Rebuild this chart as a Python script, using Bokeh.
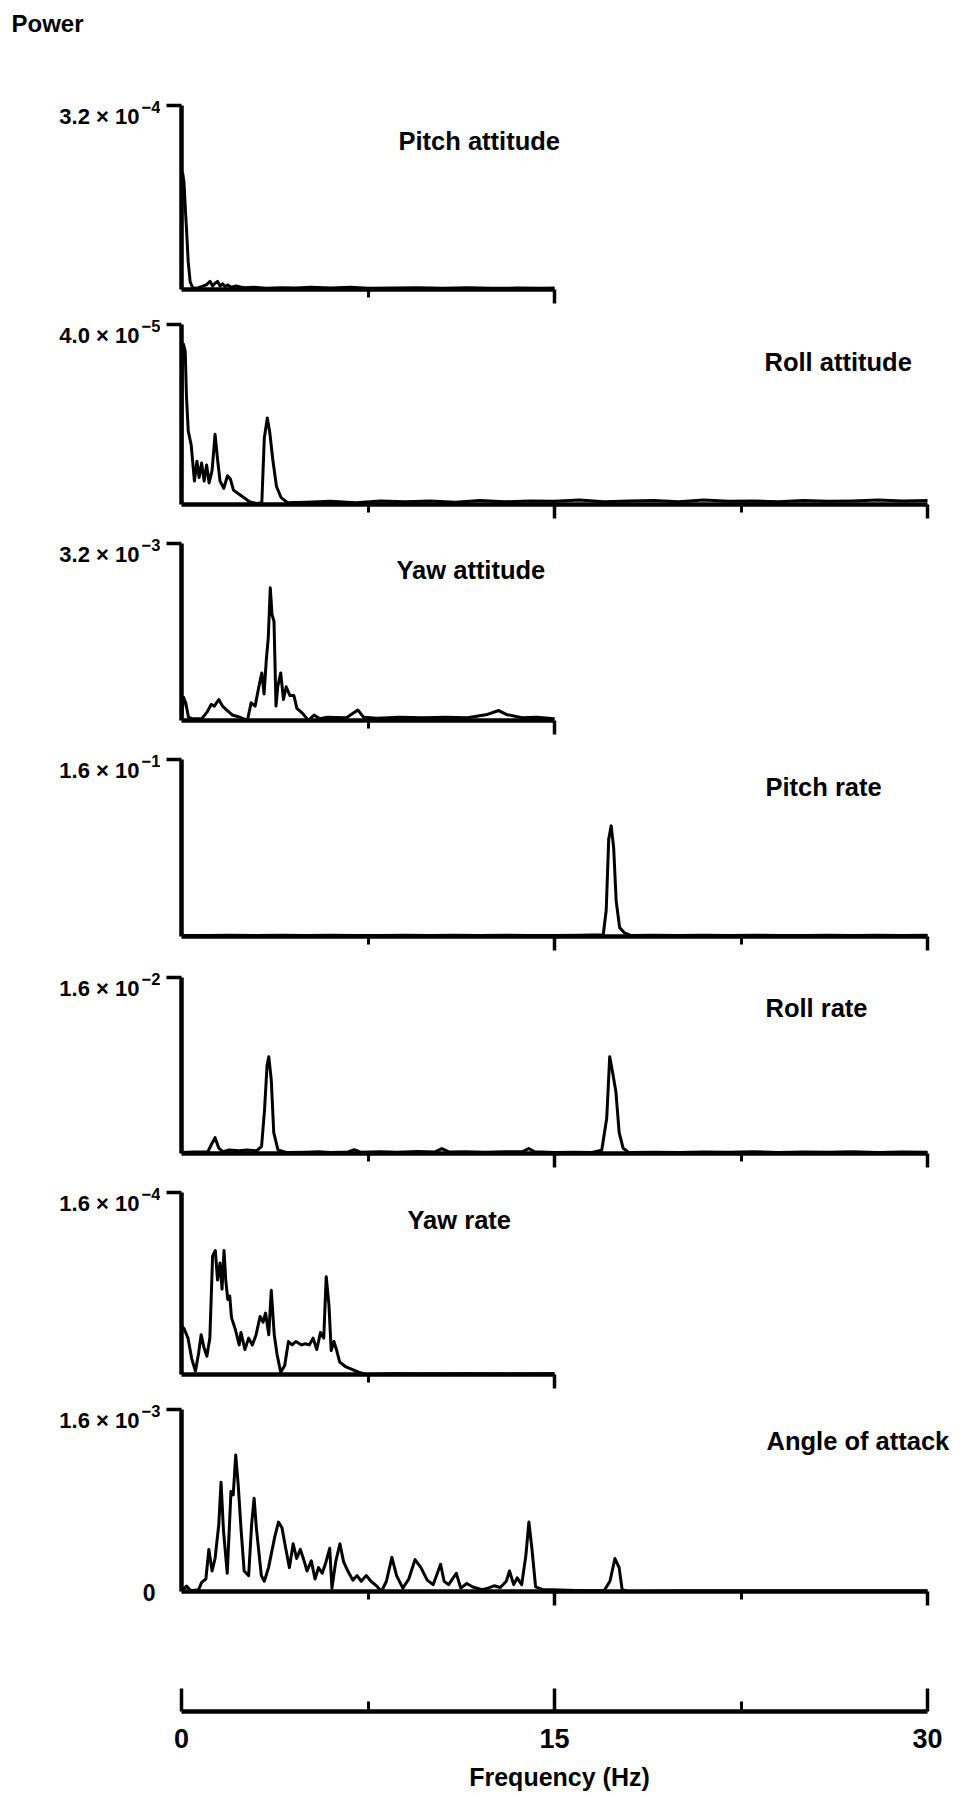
from bokeh.plotting import figure
from bokeh.models import Range1d, FixedTicker, CustomJSTickFormatter, Label, LinearAxis
from bokeh.layouts import column, row
from bokeh.embed import file_html
from bokeh.resources import INLINE

FONT = "Liberation Sans"
PAGE_W, PAGE_H = 961, 1797
LEFT_W = 160                      # width of the strip that carries the power labels
X0_PX, X30_PX = 181, 927          # horizontal page position of 0 Hz and 30 Hz
F_MAX = 30.0
F_VIEW = F_MAX * (PAGE_W - X0_PX) / (X30_PX - X0_PX)   # frequency at the page's right edge

# ---------------- spectra (frequency in Hz, power in the unit noted) ----------------
# Pitch attitude, power x 1e-4
pitch_att_freq = [0, 0.02, 0.05, 0.1, 0.15, 0.2, 0.27, 0.35, 0.45, 0.6,
                  0.8, 1.0, 1.15, 1.25, 1.35, 1.45, 1.55, 1.65, 1.75, 1.85,
                  2.0, 2.2, 2.5, 2.9, 3.4, 4.0, 4.6, 5.2, 6.0, 6.8,
                  7.5, 8.5, 9.5, 10.5, 11.5, 12.5, 13.5, 14.5, 15.0]
pitch_att_power = [0.0, 1.92, 2.02, 1.86, 1.44, 1.06, 0.48, 0.13, 0.03, 0.02,
                   0.05, 0.08, 0.14, 0.06, 0.11, 0.14, 0.06, 0.10, 0.05, 0.08,
                   0.04, 0.06, 0.03, 0.04, 0.02, 0.03, 0.025, 0.04, 0.025, 0.04,
                   0.02, 0.025, 0.03, 0.02, 0.03, 0.02, 0.025, 0.02, 0.025]

# Roll attitude, power x 1e-5
roll_att_freq = [0, 0.04, 0.08, 0.15, 0.2, 0.27, 0.39, 0.52, 0.62, 0.71,
                 0.81, 0.91, 1.01, 1.11, 1.23, 1.35, 1.45, 1.55, 1.7, 1.85,
                 1.97, 2.09, 2.29, 2.49, 2.73, 3.03, 3.23, 3.33, 3.45, 3.55,
                 3.67, 3.82, 4.0, 4.26,
                 5, 6, 7, 8, 9, 10, 11, 12, 13, 14, 15, 16, 17, 18, 19, 20,
                 21, 22, 23, 24, 25, 26, 27, 28, 29, 30]
roll_att_power = [0.0, 3.4, 3.56, 3.4, 2.4, 1.64, 1.32, 0.52, 0.96, 0.6,
                  0.92, 0.52, 0.88, 0.48, 0.76, 1.56, 1.0, 0.52, 0.36, 0.64,
                  0.56, 0.32, 0.24, 0.16, 0.06, 0.02, 0.04, 1.48, 1.92, 1.6,
                  1.0, 0.4, 0.16, 0.04,
                  0.05, 0.07, 0.04, 0.08, 0.06, 0.08, 0.05, 0.09, 0.06, 0.08,
                  0.07, 0.10, 0.06, 0.08, 0.09, 0.06, 0.10, 0.07, 0.08, 0.06,
                  0.09, 0.07, 0.08, 0.10, 0.08, 0.09]

# Yaw attitude, power x 1e-3
yaw_att_freq = [0, 0.08, 0.17, 0.28, 0.43, 0.81, 1.04, 1.19, 1.32, 1.5,
                1.65, 1.81, 2.04, 2.34, 2.65, 2.8, 2.96, 3.11, 3.23, 3.32,
                3.41, 3.49, 3.57, 3.64, 3.72, 3.8, 3.87, 3.99, 4.1, 4.21,
                4.36, 4.52, 4.64, 4.87, 5.1, 5.33, 5.56, 5.87, 6.63, 7.09,
                7.32, 7.86, 8.77, 9.7, 10.6, 11.5, 12.3, 12.76, 13.06, 13.7,
                14.3, 15.0]
yaw_att_power = [0.0, 0.42, 0.32, 0.06, 0.03, 0.03, 0.16, 0.29, 0.26, 0.38,
                 0.26, 0.19, 0.10, 0.06, 0.0, 0.32, 0.26, 0.61, 0.86, 0.48,
                 1.09, 1.5, 2.4, 1.92, 1.79, 0.26, 0.61, 0.86, 0.38, 0.61,
                 0.45, 0.45, 0.22, 0.13, 0.0, 0.10, 0.03, 0.06, 0.05, 0.19,
                 0.06, 0.04, 0.06, 0.05, 0.06, 0.05, 0.11, 0.18, 0.11, 0.05,
                 0.06, 0.03]

# Pitch rate, power x 1e-1
pitch_rate_freq = [0, 1, 2, 3, 4, 5, 6, 7, 8, 9, 10, 11, 12, 13, 14, 15, 16,
                   16.96, 17.08, 17.18, 17.28, 17.38, 17.48, 17.62, 17.82, 18.06,
                   19, 20, 21, 22, 23, 24, 25, 26, 27, 28, 29, 30]
pitch_rate_power = [0.008, 0.010, 0.012, 0.008, 0.011, 0.009, 0.012, 0.008, 0.010,
                    0.012, 0.009, 0.011, 0.008, 0.012, 0.010, 0.009, 0.011,
                    0.016, 0.24, 0.88, 1.0, 0.8, 0.32, 0.08, 0.032, 0.010,
                    0.012, 0.009, 0.011, 0.008, 0.012, 0.010, 0.009, 0.011,
                    0.008, 0.012, 0.010, 0.011]

# Roll rate, power x 1e-2
roll_rate_freq = [0, 0.5, 1.06, 1.18, 1.35, 1.5, 1.67, 1.92, 2.29, 2.65,
                  3.02, 3.22, 3.34, 3.44, 3.51, 3.61, 3.71, 3.88, 4.25, 5.0,
                  5.5, 6.0, 6.7, 6.95, 7.2, 8.0, 8.67, 9.5, 10.2, 10.47,
                  10.75, 11.4, 12.2, 13.0, 13.7, 13.96, 14.2, 15.0, 15.8, 16.5,
                  16.9, 17.1, 17.22, 17.35, 17.47, 17.6, 17.76, 18.0, 19, 20,
                  21, 22, 23, 24, 25, 26, 27, 28, 29, 30]
roll_rate_power = [0.008, 0.013, 0.016, 0.072, 0.144, 0.048, 0.016, 0.032, 0.024, 0.032,
                   0.024, 0.064, 0.4, 0.8, 0.88, 0.67, 0.19, 0.032, 0.008, 0.012,
                   0.016, 0.010, 0.014, 0.035, 0.012, 0.016, 0.012, 0.018, 0.014, 0.045,
                   0.014, 0.016, 0.012, 0.016, 0.016, 0.045, 0.016, 0.010, 0.012, 0.010,
                   0.03, 0.32, 0.88, 0.72, 0.56, 0.19, 0.048, 0.008, 0.012, 0.010,
                   0.014, 0.011, 0.016, 0.010, 0.013, 0.011, 0.015, 0.010, 0.014, 0.012]

# Yaw rate, power x 1e-4
yaw_rate_freq = [0, 0.11, 0.26, 0.41, 0.56, 0.69, 0.79, 0.9, 1.02, 1.14,
                 1.25, 1.36, 1.45, 1.55, 1.63, 1.71, 1.78, 1.86, 1.94, 2.01,
                 2.16, 2.32, 2.39, 2.55, 2.7, 2.85, 3.0, 3.16, 3.28, 3.38,
                 3.51, 3.61, 3.73, 3.84, 3.99, 4.15, 4.3, 4.45, 4.6, 4.83,
                 4.98, 5.14, 5.29, 5.44, 5.59, 5.72, 5.82, 5.93, 6.02, 6.13,
                 6.23, 6.36, 6.59, 6.81, 7.12, 7.42, 8.5, 10.0, 11.5, 13.0,
                 15.0]
yaw_rate_power = [0.43, 0.40, 0.32, 0.14, 0.03, 0.19, 0.35, 0.24, 0.16, 0.32,
                  1.04, 1.09, 0.83, 0.98, 0.75, 1.09, 0.83, 0.66, 0.69, 0.50,
                  0.40, 0.26, 0.37, 0.22, 0.32, 0.26, 0.35, 0.51, 0.46, 0.54,
                  0.35, 0.74, 0.35, 0.18, 0.02, 0.08, 0.29, 0.26, 0.29, 0.26,
                  0.27, 0.26, 0.32, 0.22, 0.37, 0.32, 0.86, 0.61, 0.21, 0.29,
                  0.22, 0.11, 0.07, 0.05, 0.02, 0.0, 0.006, 0.005, 0.006, 0.005,
                  0.006]

# Angle of attack, power x 1e-3
aoa_freq = [0, 0.07, 0.2, 0.37, 0.69, 0.81, 0.98, 1.1, 1.23, 1.35,
            1.5, 1.59, 1.69, 1.84, 1.99, 2.08, 2.18, 2.28, 2.4, 2.52,
            2.7, 2.82, 2.92, 3.01, 3.21, 3.33, 3.5, 3.75, 3.9, 4.04,
            4.19, 4.34, 4.49, 4.63, 4.78, 4.93, 5.05, 5.22, 5.37, 5.51,
            5.66, 5.81, 5.96, 6.05, 6.2, 6.37, 6.52, 6.69, 6.89, 7.06,
            7.23, 7.43, 7.62, 7.84, 8.04, 8.24, 8.46, 8.65, 8.9, 9.14,
            9.39, 9.63, 9.88, 10.12, 10.42, 10.56, 10.74, 11.05, 11.23, 11.47,
            11.72, 12.08, 12.33, 12.57, 12.82, 13.06, 13.19, 13.36, 13.5, 13.68,
            13.85, 13.97, 14.09, 14.24, 14.53, 14.9, 15.5, 16.25, 16.99, 17.23,
            17.43, 17.6, 17.72, 17.97, 20, 25, 30]
aoa_power = [0.0, 0.016, 0.048, 0.006, 0.016, 0.08, 0.11, 0.37, 0.18, 0.29,
             0.59, 0.96, 0.53, 0.16, 0.88, 0.85, 1.2, 0.94, 0.53, 0.18,
             0.14, 0.59, 0.82, 0.56, 0.14, 0.09, 0.21, 0.48, 0.61, 0.56,
             0.38, 0.21, 0.42, 0.29, 0.37, 0.27, 0.18, 0.27, 0.11, 0.21,
             0.16, 0.26, 0.38, 0.03, 0.26, 0.42, 0.26, 0.18, 0.10, 0.14,
             0.09, 0.14, 0.09, 0.05, 0.0, 0.09, 0.30, 0.14, 0.03, 0.11,
             0.28, 0.21, 0.10, 0.06, 0.24, 0.09, 0.06, 0.16, 0.03, 0.07,
             0.04, 0.016, 0.03, 0.05, 0.035, 0.09, 0.18, 0.06, 0.12, 0.06,
             0.32, 0.61, 0.38, 0.04, 0.016, 0.016, 0.01, 0.006, 0.006, 0.09,
             0.29, 0.21, 0.016, 0.0, 0.005, 0.005, 0.005]

panel_titles = ["Pitch attitude", "Roll attitude", "Yaw attitude", "Pitch rate",
                "Roll rate", "Yaw rate", "Angle of attack"]
panel_units = [1e-4, 1e-5, 1e-3, 1e-1, 1e-2, 1e-4, 1e-3]
axis_tops = [3.2e-4, 4.0e-5, 3.2e-3, 1.6e-1, 1.6e-2, 1.6e-4, 1.6e-3]
axis_top_mantissa = ["3.2 × 10", "4.0 × 10", "3.2 × 10", "1.6 × 10",
                     "1.6 × 10", "1.6 × 10", "1.6 × 10"]
axis_top_exponent = ["−4", "−5", "−3", "−1", "−2", "−4", "−3"]
panel_spans = [15, 30, 15, 30, 30, 15, 30]          # Hz covered by each trace
freq_ticks = [0, 15, 30]
freq_minor_ticks = [7.5, 22.5]

series = [
    (pitch_att_freq, pitch_att_power),
    (roll_att_freq, roll_att_power),
    (yaw_att_freq, yaw_att_power),
    (pitch_rate_freq, pitch_rate_power),
    (roll_rate_freq, roll_rate_power),
    (yaw_rate_freq, yaw_rate_power),
    (aoa_freq, aoa_power),
]

# ---------------- page layout (pixels from the top of the page) ----------------
FRAME_TOP = [105, 324, 543, 759, 977, 1192, 1409]
FRAME_BOT = [289, 504, 720, 936, 1153, 1374, 1591]
CUTS = [0, 310, 529, 745, 963, 1178, 1395, 1621]
TITLE_POS = [(398, 140), (764, 361), (396, 569), (765, 786),
             (765, 1007), (407, 1219), (766, 1440)]
FREQ_AXIS_Y = 1711
FREQ_FRAME_RIGHT = 937


def bold_label(x, y, text, size, align="left", baseline="alphabetic"):
    return Label(x=x, y=y, text=text, text_font=FONT, text_font_style="bold",
                 text_font_size=size, text_color="black",
                 text_align=align, text_baseline=baseline)


# ---- left strip: "Power" and the full-scale value of each panel ----
left = figure(width=LEFT_W, height=CUTS[-1],
              x_range=Range1d(0, LEFT_W), y_range=Range1d(CUTS[-1], 0),
              x_axis_type=None, y_axis_type=None,
              output_backend="svg", toolbar_location=None,
              min_border_left=0, min_border_right=0, min_border_top=0, min_border_bottom=0)
left.outline_line_color = None
left.grid.visible = False
left.add_layout(bold_label(11, 23, "Power", "24px"))
for i in range(len(series)):
    top_px = FRAME_TOP[i]
    left.add_layout(bold_label(139, top_px + 11, axis_top_mantissa[i], "22px", align="right"))
    left.add_layout(bold_label(141, top_px + 1, axis_top_exponent[i], "16.5px"))
left.add_layout(bold_label(155, FRAME_BOT[-1] + 1, "0", "23px", align="right", baseline="middle"))

# ---- the seven spectra ----
figs = []
for i, (freq, power) in enumerate(series):
    assert len(freq) == len(power)
    top = axis_tops[i]
    ftop, fbot = FRAME_TOP[i], FRAME_BOT[i]
    p = figure(width=PAGE_W - LEFT_W, height=CUTS[i + 1] - CUTS[i],
               x_range=Range1d(0, F_VIEW), y_range=Range1d(0, top),
               x_axis_type=None, y_axis_type=None,
               output_backend="svg", toolbar_location=None,
               min_border_left=X0_PX - LEFT_W, min_border_right=0,
               min_border_top=ftop - CUTS[i], min_border_bottom=CUTS[i + 1] - fbot)
    p.outline_line_color = None
    p.grid.visible = False

    span = panel_spans[i]
    xa = LinearAxis(ticker=FixedTicker(ticks=[t for t in freq_ticks if 0 < t <= span],
                                       minor_ticks=[t for t in freq_minor_ticks if t < span]),
                    formatter=CustomJSTickFormatter(code="return '';"),
                    bounds=(0, span),
                    axis_line_width=4.5, axis_line_color="black",
                    major_tick_line_width=3.5, major_tick_out=14, major_tick_in=0,
                    minor_tick_line_width=3, minor_tick_out=8, minor_tick_in=0,
                    major_label_standoff=0, major_label_text_font_size="1px")
    p.add_layout(xa, "below")

    ya = LinearAxis(ticker=FixedTicker(ticks=[top], minor_ticks=[]),
                    formatter=CustomJSTickFormatter(code="return '';"),
                    bounds=(0, top),
                    axis_line_width=4.5, axis_line_color="black",
                    major_tick_line_width=3.5, major_tick_out=15, major_tick_in=0,
                    minor_tick_out=0, minor_tick_in=0,
                    major_label_standoff=0, major_label_text_font_size="1px")
    p.add_layout(ya, "left")

    values = [v * panel_units[i] for v in power]
    p.line(freq, values, line_color="black", line_width=3, line_join="round")

    tx, ty = TITLE_POS[i]
    x_title = (tx - X0_PX) / (X30_PX - X0_PX) * F_MAX
    y_title = top * (fbot - ty) / (fbot - ftop)
    p.add_layout(bold_label(x_title, y_title, panel_titles[i], "25.5px"))
    figs.append(p)

# ---- shared frequency scale at the foot of the page ----
pb = figure(width=PAGE_W, height=PAGE_H - CUTS[-1],
            x_range=Range1d(0, F_MAX * (FREQ_FRAME_RIGHT - X0_PX) / (X30_PX - X0_PX)),
            y_range=Range1d(0, 1),
            x_axis_type=None, y_axis_type=None,
            output_backend="svg", toolbar_location=None,
            min_border_left=X0_PX, min_border_right=PAGE_W - FREQ_FRAME_RIGHT,
            min_border_top=40, min_border_bottom=PAGE_H - FREQ_AXIS_Y)
pb.outline_line_color = None
pb.grid.visible = False
fa = LinearAxis(ticker=FixedTicker(ticks=freq_ticks, minor_ticks=freq_minor_ticks),
                bounds=(0, F_MAX),
                axis_label="Frequency (Hz)",
                axis_line_width=4.5, axis_line_color="black",
                major_tick_line_width=3.5, major_tick_in=23, major_tick_out=0,
                minor_tick_line_width=3, minor_tick_in=10, minor_tick_out=0,
                major_label_standoff=17, major_label_text_font=FONT,
                major_label_text_font_style="bold", major_label_text_font_size="27px",
                major_label_text_color="black",
                axis_label_standoff=12, axis_label_text_font=FONT,
                axis_label_text_font_style="bold", axis_label_text_font_size="25px",
                axis_label_text_color="black")
pb.add_layout(fa, "below")

top_block = row(left, column(*figs, spacing=0), spacing=0)
layout = column(top_block, pb, spacing=0)
open("out.html", "w").write(file_html(layout, INLINE))
